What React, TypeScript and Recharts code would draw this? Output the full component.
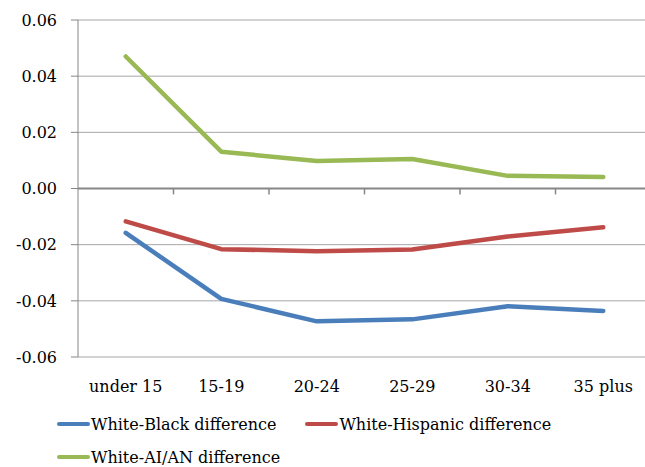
import { LineChart, Line, XAxis, YAxis, CartesianGrid, ReferenceLine } from 'recharts';

const ageGroups = ['under 15', '15-19', '20-24', '25-29', '30-34', '35 plus'];
const whiteBlack = [-0.0158, -0.0393, -0.0473, -0.0466, -0.0419, -0.0436];
const whiteHispanic = [-0.0117, -0.0216, -0.0223, -0.0217, -0.0171, -0.0138];
const whiteAian = [0.047, 0.0131, 0.0098, 0.0105, 0.0045, 0.0041];
const yTicks = [-0.06, -0.04, -0.02, 0, 0.02, 0.04, 0.06];

const series = [
	{ key: 'wb', name: 'White-Black difference', color: '#4a7ebb', values: whiteBlack },
	{ key: 'wh', name: 'White-Hispanic difference', color: '#be4b48', values: whiteHispanic },
	{ key: 'wa', name: 'White-AI/AN difference', color: '#98b954', values: whiteAian },
];

const data = ageGroups.map((g, i) => ({
	i,
	group: g,
	wb: whiteBlack[i],
	wh: whiteHispanic[i],
	wa: whiteAian[i],
}));

// category boundaries for the little tick marks on the zero line
const boundaries = ageGroups.slice(1).map((_, i) => i + 0.5);

const FONT = '"DejaVu Serif", serif';
const AXIS = '#868686';

function LegendBox() {
	return (
		<div
			style={{
				position: 'absolute',
				left: 57,
				top: 413,
				display: 'flex',
				flexWrap: 'wrap',
				columnGap: 29,
				rowGap: 11,
				width: 560,
				fontFamily: FONT,
				fontSize: 16,
				color: '#000',
			}}
		>
			{series.map((s) => (
				<div key={s.key} style={{ display: 'flex', alignItems: 'center', height: 22 }}>
					<span
						style={{
							display: 'inline-block',
							width: 33,
							height: 4,
							borderRadius: 2,
							background: s.color,
							marginRight: 1,
						}}
					/>
					<span>{s.name}</span>
				</div>
			))}
		</div>
	);
}

export default function App() {
	return (
		<div style={{ position: 'absolute', left: 0, top: 0, width: 660, height: 467 }}>
			<LineChart
				width={660}
				height={467}
				data={data}
				margin={{ top: 20, right: 9, left: 0, bottom: 80 }}
			>
				<CartesianGrid vertical={false} stroke="#a6a6a6" />
				<XAxis
					dataKey="i"
					type="number"
					domain={[-0.5, 5.5]}
					ticks={[0, 1, 2, 3, 4, 5]}
					tickFormatter={(v) => ageGroups[v]}
					axisLine={false}
					tickLine={false}
					tickSize={0}
					tickMargin={24}
					tick={{ fill: '#000', fontSize: 16, fontFamily: FONT }}
					interval={0}
					height={30}
				/>
				<YAxis
					domain={[-0.06, 0.06]}
					ticks={yTicks}
					tickFormatter={(v) => v.toFixed(2)}
					width={78}
					stroke={AXIS}
					tickSize={7}
					tickMargin={14}
					tick={{ fill: '#000', fontSize: 16, fontFamily: FONT }}
				/>
				<ReferenceLine y={0} stroke={AXIS} strokeWidth={2} />
				{boundaries.map((b) => (
					<ReferenceLine
						key={b}
						segment={[
							{ x: b, y: 0 },
							{ x: b, y: -0.0021 },
						]}
						stroke={AXIS}
						strokeWidth={1.5}
					/>
				))}
				{series.map((s) => (
					<Line
						key={s.key}
						dataKey={s.key}
						name={s.name}
						stroke={s.color}
						strokeWidth={4.5}
						strokeLinecap="round"
						strokeLinejoin="round"
						dot={false}
						activeDot={false}
						isAnimationActive={false}
					/>
				))}
			</LineChart>
			<LegendBox />
		</div>
	);
}
